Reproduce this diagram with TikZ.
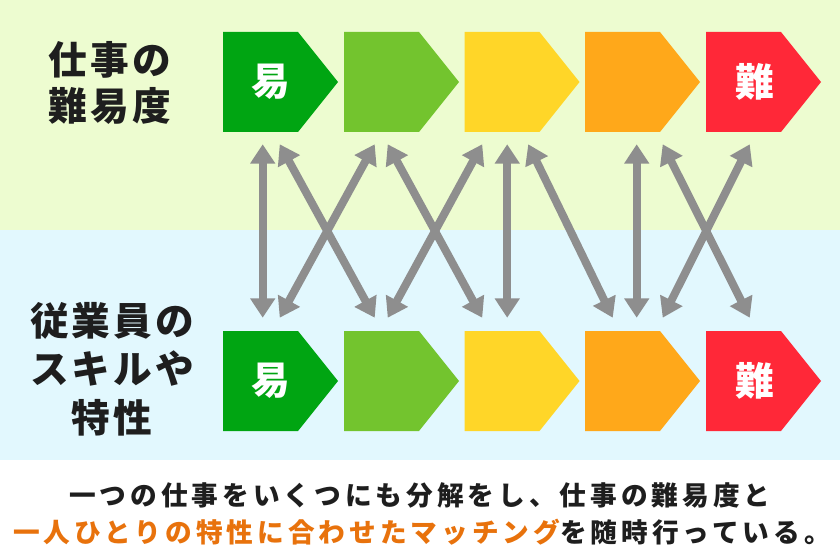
\documentclass[tikz,border=0pt]{standalone}
\usepackage{fontspec}
\setmainfont{Noto Sans CJK JP}
\usetikzlibrary{arrows.meta,calc}
\definecolor{bggreen}{HTML}{EDFCD0}
\definecolor{bgblue}{HTML}{E2F8FE}
\definecolor{cA}{HTML}{00A512}
\definecolor{cB}{HTML}{73C42E}
\definecolor{cC}{HTML}{FFD628}
\definecolor{cD}{HTML}{FFA81A}
\definecolor{cE}{HTML}{FF2838}
\definecolor{arrgray}{HTML}{8E8E8E}
\definecolor{txtdark}{HTML}{1E1E1E}
\definecolor{orangetxt}{HTML}{E8720C}
\begin{document}
\begin{tikzpicture}[x=0.75pt,y=-0.75pt,
  box/.style={minimum width=86.25pt,minimum height=75pt,inner sep=0pt,
    path picture={\fill[#1] (path picture bounding box.north west)
      -- ([xshift=-30pt]path picture bounding box.north east)
      -- (path picture bounding box.east)
      -- ([xshift=-30pt]path picture bounding box.south east)
      -- (path picture bounding box.south west) -- cycle;}},
  boxtxt/.style={text=white,inner sep=0pt,font=\bfseries\fontsize{29pt}{30pt}\selectfont},
  lbl/.style={text=txtdark,align=center,inner sep=0pt,
    font=\bfseries\fontsize{29pt}{34.5pt}\selectfont\addfontfeature{LetterSpace=8}},
  lbltwo/.style={text=txtdark,align=center,inner sep=0pt,
    font=\bfseries\fontsize{29pt}{36.5pt}\selectfont\addfontfeature{LetterSpace=8}},
  note/.style={text=txtdark,inner sep=0pt,
    font=\bfseries\fontsize{20pt}{22pt}\selectfont\addfontfeature{LetterSpace=15}},
  arr/.style={draw=arrgray,line width=6pt,
    {Triangle[width=18pt,length=14.5pt]}-{Triangle[width=18pt,length=14.5pt]}}
]
\useasboundingbox (0,0) rectangle (840,560);
\fill[white] (0,0) rectangle (840,560);
\fill[bggreen] (0,0) rectangle (840,230);
\fill[bgblue] (0,230) rectangle (840,460);

% top row
\node[box=cA] (t1) at (280.5,82) {};
\node[box=cB] (t2) at (401.5,82) {};
\node[box=cC] (t3) at (522,82) {};
\node[box=cD] (t4) at (642.5,82) {};
\node[box=cE] (t5) at (763.5,82) {};
% bottom row
\node[box=cA] (b1) at (280.5,381) {};
\node[box=cB] (b2) at (401.5,381) {};
\node[box=cC] (b3) at (522,381) {};
\node[box=cD] (b4) at (642.5,381) {};
\node[box=cE] (b5) at (763.5,381) {};

\node[boxtxt] (t1l) at ([xshift=-7.5pt]t1.center) {易};
\node[boxtxt] (t5l) at ([xshift=-6.5pt]t5.center) {難};
\node[boxtxt] (b1l) at ([xshift=-7.5pt]b1.center) {易};
\node[boxtxt] (b5l) at ([xshift=-6.5pt]b5.center) {難};

% arrows
\draw[arr] ($(t1.south west)+(40,12)$) -- ($(b1.north west)+(40,-13)$);
\draw[arr] ($(t1.south west)+(57,12)$) -- ($(b2.north west)+(31,-13)$);
\draw[arr] ($(t2.south west)+(31,12)$) -- ($(b1.north west)+(57,-13)$);
\draw[arr] ($(t2.south west)+(44,12)$) -- ($(b3.north west)+(18,-13)$);
\draw[arr] ($(t3.south west)+(18,12)$) -- ($(b2.north west)+(44,-13)$);
\draw[arr] ($(t3.south west)+(43,12)$) -- ($(b3.north west)+(43,-13)$);
\draw[arr] ($(t3.south west)+(64,12)$) -- ($(b4.north west)+(28,-13)$);
\draw[arr] ($(t4.south west)+(52,12)$) -- ($(b4.north west)+(52,-13)$);
\draw[arr] ($(t4.south west)+(78,12)$) -- ($(b5.north west)+(44,-13)$);
\draw[arr] ($(t5.south west)+(44,12)$) -- ($(b4.north west)+(78,-13)$);

% left labels
\node[lbl] (lab1) at (110,83) {仕事の\\難易度};
\node[lbltwo] (lab2) at (112,369) {従業員の\\スキルや\\特性};

% bottom text
\node[note] (n1) at (420,495) {一つの仕事をいくつにも分解をし、仕事の難易度と};
\node[note] (n2) at (422,532) {\textcolor{orangetxt}{一人ひとりの特性に合わせたマッチング}を随時行っている。};
\end{tikzpicture}
\end{document}
